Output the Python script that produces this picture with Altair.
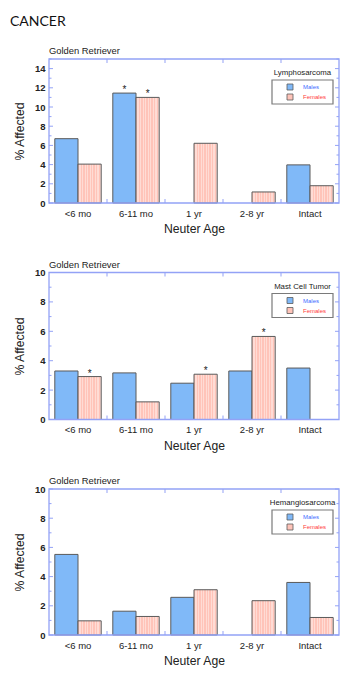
import altair as alt
import pandas as pd

AGES = ["<6 mo", "6-11 mo", "1 yr", "2-8 yr", "Intact"]
SEXES = ["Males", "Females"]

# Lymphosarcoma
lsa_m = [6.7, 11.45, 0.0, 0.0, 3.97]
lsa_f = [4.05, 11.0, 6.22, 1.15, 1.8]
lsa_star_m = [False, True, False, False, False]
lsa_star_f = [False, True, False, False, False]

# Mast Cell Tumor
mct_m = [3.3, 3.17, 2.47, 3.3, 3.5]
mct_f = [2.92, 1.2, 3.08, 5.65, 0.0]
mct_star_m = [False, False, False, False, False]
mct_star_f = [True, False, True, True, False]

# Hemangiosarcoma
hsa_m = [5.52, 1.63, 2.58, 0.0, 3.6]
hsa_f = [0.97, 1.27, 3.1, 2.35, 1.2]
hsa_star_m = [False] * 5
hsa_star_f = [False] * 5

MALE_FILL = "#80b9f8"
FEM_BASE = "#ffc4b9"
FEM_STRIPE = "#ffdcd5"
BAR_STROKE = "#5a5a5a"
FRAME = "#93a2f6"
W = 290
FONT = "Liberation Sans"

stops = []
n = 9
for i in range(n):
    a = i / n
    b = (i + 0.55) / n
    c = (i + 1) / n
    stops += [alt.GradientStop(color=FEM_BASE, offset=a),
              alt.GradientStop(color=FEM_BASE, offset=b),
              alt.GradientStop(color=FEM_STRIPE, offset=b),
              alt.GradientStop(color=FEM_STRIPE, offset=c)]
FEM_FILL = alt.LinearGradient(gradient="linear", stops=stops, x1=0, x2=1, y1=0, y2=0)


def panel(males, females, star_m, star_f, disease, ymax, height, heading=None):
    rows = []
    for i, a in enumerate(AGES):
        rows.append({"age": a, "sex": "Males", "value": males[i], "star": star_m[i]})
        rows.append({"age": a, "sex": "Females", "value": females[i], "star": star_f[i]})
    df = pd.DataFrame(rows)

    xscale = alt.Scale(domain=AGES, paddingInner=0, paddingOuter=0)
    offscale = alt.Scale(domain=SEXES, paddingInner=0, paddingOuter=0.25)
    yscale = alt.Scale(domain=[0, ymax], nice=False)

    xaxis = alt.Axis(title="Neuter Age", labelAngle=0, ticks=False, domain=False,
                     labelPadding=5, titlePadding=5, labelFontSize=9.5,
                     titleFontSize=12.2, labelFont=FONT, titleFont=FONT,
                     labelColor="#222", titleColor="#222", titleFontWeight="normal")
    yvals = [v for v in range(0, ymax + 1, 2) if v < ymax or ymax == 10]
    yaxis = alt.Axis(title="% Affected", values=yvals,
                     ticks=False, domain=False, grid=False, labelPadding=4,
                     titlePadding=8, labelFontSize=9.5, titleFontSize=12.2,
                     labelFont=FONT, titleFont=FONT, labelColor="#222",
                     titleColor="#222", titleFontWeight="normal", labelFontWeight="bold")
    x_enc = alt.X("age:N", sort=AGES, scale=xscale, axis=xaxis)
    y_enc = alt.Y("value:Q", scale=yscale, axis=yaxis)
    off_enc = alt.XOffset("sex:N", scale=offscale, sort=SEXES)

    base = alt.Chart(df)
    male_bars = base.mark_bar(fill=MALE_FILL, stroke=BAR_STROKE, strokeWidth=1).transform_filter(
        "datum.sex == 'Males' && datum.value > 0").encode(x=x_enc, xOffset=off_enc, y=y_enc)
    fem_bars = base.mark_bar(fill=FEM_FILL, stroke=BAR_STROKE, strokeWidth=1).transform_filter(
        "datum.sex == 'Females' && datum.value > 0").encode(x=x_enc, xOffset=off_enc, y=y_enc)
    stars = base.mark_text(text="*", dy=-3, fontSize=10, font=FONT, color="#222").transform_filter(
        "datum.star").encode(x=x_enc, xOffset=off_enc, y=y_enc)

    one = pd.DataFrame({"k": [0]})
    frame = alt.Chart(one).mark_rect(fill="transparent", stroke=FRAME, strokeWidth=1.3).encode(
        x=alt.value(0), x2=alt.value(W), y=alt.value(0), y2=alt.value(height))

    # frame ticks (inward)
    major = list(range(0, ymax + 1, 2))
    minor = [v for v in range(0, ymax + 1) if v % 2 == 1]
    tk_major = pd.DataFrame({"value": major})
    tk_minor = pd.DataFrame({"value": minor})
    layers = [frame]
    for data, size in [(tk_major, 4), (tk_minor, 2.5)]:
        for xpos in [size / 2, W - size / 2]:
            layers.append(alt.Chart(data).mark_tick(orient="horizontal", size=size, thickness=1,
                                                   color=FRAME, opacity=1).encode(
                y=y_enc, x=alt.value(xpos)))
    bnd = pd.DataFrame({"age": AGES[1:]})
    xb = alt.X("age:N", sort=AGES, scale=xscale, axis=xaxis, bandPosition=0)
    for ypos in [height - 2, 2]:
        layers.append(alt.Chart(bnd).mark_tick(orient="vertical", size=4, thickness=1,
                                              color=FRAME, opacity=1).encode(
            x=xb, y=alt.value(ypos)))

    # legend and titles
    LX0, LX1 = W - 67, W - 6
    leg = [
        alt.Chart(one).mark_rect(fill="white", stroke="#7a7a7a", strokeWidth=1.2).encode(
            x=alt.value(LX0), x2=alt.value(LX1), y=alt.value(21), y2=alt.value(45)),
        alt.Chart(one).mark_text(text=disease, fontSize=7.8, font=FONT, color="#222",
                                 align="center", baseline="middle").encode(
            x=alt.value((LX0 + LX1) / 2), y=alt.value(14)),
        alt.Chart(one).mark_square(size=36, fill=MALE_FILL, stroke=BAR_STROKE, strokeWidth=0.8,
                                   opacity=1).encode(x=alt.value(LX0 + 18), y=alt.value(28)),
        alt.Chart(one).mark_square(size=36, fill=FEM_BASE, stroke=BAR_STROKE, strokeWidth=0.8,
                                   opacity=1).encode(x=alt.value(LX0 + 18), y=alt.value(38)),
        alt.Chart(one).mark_text(text="Males", fontSize=6, font=FONT, color="#3d6bff",
                                 align="left", baseline="middle").encode(
            x=alt.value(LX0 + 31), y=alt.value(28)),
        alt.Chart(one).mark_text(text="Females", fontSize=6, font=FONT, color="#ff3b3b",
                                 align="left", baseline="middle").encode(
            x=alt.value(LX0 + 31), y=alt.value(38)),
        alt.Chart(one).mark_text(text="Golden Retriever", fontSize=9.4, font=FONT, color="#222",
                                 align="left", baseline="middle").encode(
            x=alt.value(0), y=alt.value(-8)),
    ]
    if heading:
        leg.append(alt.Chart(one).mark_text(text=heading, fontSize=14, font="Lato", color="#111",
                                            align="left", baseline="middle").encode(
            x=alt.value(-39), y=alt.value(-37)))

    return alt.layer(male_bars, fem_bars, stars, *layers, *leg).properties(
        width=W, height=height)


p1 = panel(lsa_m, lsa_f, lsa_star_m, lsa_star_f, "Lymphosarcoma", 15, 144, heading="CANCER")
p2 = panel(mct_m, mct_f, mct_star_m, mct_star_f, "Mast Cell Tumor", 10, 147)
p3 = panel(hsa_m, hsa_f, hsa_star_m, hsa_star_f, "Hemangiosarcoma", 10, 146)

chart = alt.vconcat(p1, p2, p3, spacing=24.5).properties(
    padding={"left": 10, "top": 15, "right": 6, "bottom": 4},
    background="white",
).configure_view(strokeWidth=0)

chart.save("out.html", embed_options={"renderer": "svg", "actions": False})
